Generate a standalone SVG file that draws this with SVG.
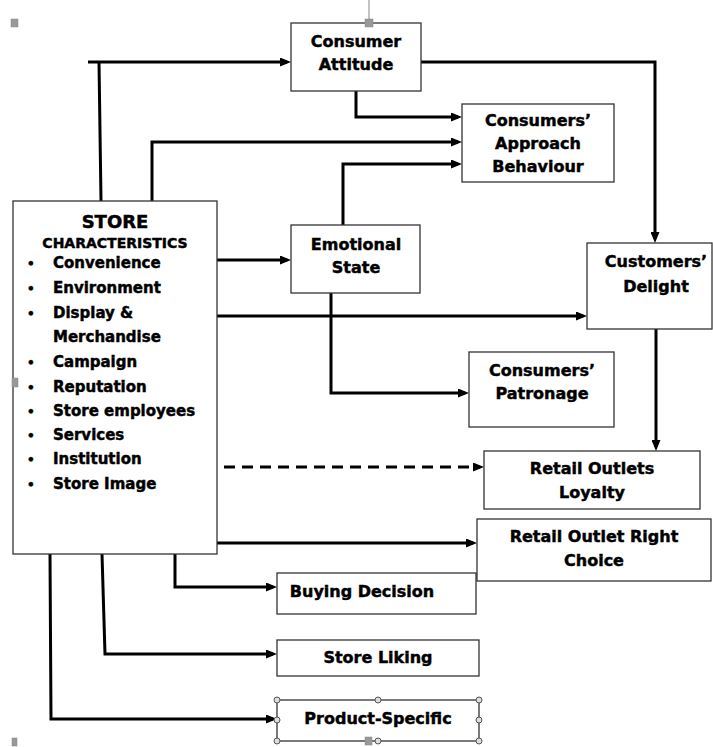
<svg xmlns="http://www.w3.org/2000/svg" width="713" height="747" viewBox="0 0 713 747">
<style>
.box{fill:#fff;stroke:#333;stroke-width:1.3}
.t{font-family:"DejaVu Sans","Liberation Sans",sans-serif;font-weight:bold;font-size:16px;fill:#000;stroke:#000;stroke-width:0.45;text-anchor:middle}
.it{font-family:"DejaVu Sans","Liberation Sans",sans-serif;font-weight:bold;font-size:15px;fill:#000;stroke:#000;stroke-width:0.45}
.b{font-size:12px}
.c{fill:none;stroke:#000;stroke-width:3;marker-end:url(#ah)}
.cn{fill:none;stroke:#000;stroke-width:3}
.h{fill:#999;stroke:#888;stroke-width:0.5}
.hc{fill:#ddd;stroke:#555;stroke-width:1}
</style>
<defs>
<marker id="ah" markerWidth="11" markerHeight="9" refX="7" refY="4.5" orient="auto" markerUnits="userSpaceOnUse"><path d="M0,0 L11,4.5 L0,9 Z" fill="#000"/></marker>
</defs>
<rect width="713" height="747" fill="#fff"/>

<g id="connectors">
<path class="c" d="M88,62 H287"/>
<path class="cn" d="M99,62 L101,201"/>
<path class="c" d="M152,201 V142 H458"/>
<path class="c" d="M356,91 V117 H458"/>
<path class="c" d="M343,225 V164 H458"/>
<path class="c" d="M421,62 H655 V239"/>
<path class="c" d="M217,260 H287"/>
<path class="c" d="M217,316 H583"/>
<path class="c" d="M331,293 V393 H465"/>
<path class="c" d="M656,329 V447"/>
<path class="c" d="M224,467 H480" stroke-dasharray="11 7"/>
<path class="c" d="M217,543 H473"/>
<path class="c" d="M175,554 V587 H273"/>
<path class="c" d="M102,554 L105,654 H273"/>
<path class="c" d="M50,554 L51,719 H273"/>
</g>

<g id="store">
<rect class="box" x="13" y="201" width="204" height="353"/>
<text class="t" x="115" y="228" style="font-size:18px">STORE</text>
<text class="t" x="115" y="248" style="font-size:14px">CHARACTERISTICS</text>
<g class="it">
<text class="b" x="27" y="268">•</text><text x="53" y="268">Convenience</text>
<text class="b" x="27" y="293">•</text><text x="53" y="293">Environment</text>
<text class="b" x="27" y="318">•</text><text x="53" y="318">Display &amp;</text>
<text x="53" y="342">Merchandise</text>
<text class="b" x="27" y="367">•</text><text x="53" y="367">Campaign</text>
<text class="b" x="27" y="392">•</text><text x="53" y="392">Reputation</text>
<text class="b" x="27" y="416">•</text><text x="53" y="416">Store employees</text>
<text class="b" x="27" y="440">•</text><text x="53" y="440">Services</text>
<text class="b" x="27" y="464">•</text><text x="53" y="464">Institution</text>
<text class="b" x="27" y="489">•</text><text x="53" y="489">Store Image</text>
</g>
</g>

<g id="consumer-attitude">
<rect class="box" x="291" y="23" width="130" height="68"/>
<text class="t" x="356" y="47">Consumer</text>
<text class="t" x="356" y="70">Attitude</text>
</g>

<g id="approach-behaviour">
<rect class="box" x="462" y="104" width="152" height="78"/>
<text class="t" x="538" y="126">Consumers’</text>
<text class="t" x="538" y="149">Approach</text>
<text class="t" x="538" y="172">Behaviour</text>
</g>

<g id="emotional-state">
<rect class="box" x="291" y="225" width="129" height="68"/>
<text class="t" x="356" y="250">Emotional</text>
<text class="t" x="356" y="273">State</text>
</g>

<g id="customers-delight">
<rect class="box" x="587" y="243" width="125" height="86"/>
<text class="t" x="656" y="267">Customers’</text>
<text class="t" x="656" y="292">Delight</text>
</g>

<g id="patronage">
<rect class="box" x="469" y="352" width="145" height="75"/>
<text class="t" x="542" y="376">Consumers’</text>
<text class="t" x="542" y="399">Patronage</text>
</g>

<g id="loyalty">
<rect class="box" x="484" y="451" width="216" height="58"/>
<text class="t" x="592" y="474">Retail Outlets</text>
<text class="t" x="592" y="498">Loyalty</text>
</g>

<g id="right-choice">
<rect class="box" x="477" y="519" width="234" height="62"/>
<text class="t" x="594" y="542">Retail Outlet Right</text>
<text class="t" x="594" y="566">Choice</text>
</g>

<g id="buying-decision">
<rect class="box" x="277" y="573" width="199" height="41"/>
<text class="t" x="362" y="597">Buying Decision</text>
</g>

<g id="store-liking">
<rect class="box" x="277" y="640" width="202" height="36"/>
<text class="t" x="378" y="663">Store Liking</text>
</g>

<g id="product-specific">
<rect class="box" x="277" y="700" width="202" height="41"/>
<text class="t" x="378" y="724">Product-Specific</text>
<g class="hc">
<circle cx="277" cy="700" r="3"/><circle cx="378" cy="700" r="3"/><circle cx="479" cy="700" r="3"/>
<circle cx="277" cy="720" r="3"/><circle cx="479" cy="720" r="3"/>
<circle cx="277" cy="741" r="3"/><circle cx="378" cy="741" r="3"/><circle cx="479" cy="741" r="3"/>
</g>
<rect class="h" x="365" y="737" width="7" height="8"/>
</g>

<g id="handles">
<line x1="369" y1="0" x2="369" y2="19" stroke="#888" stroke-width="1"/>
<rect class="h" x="365" y="19" width="8" height="8"/>
<rect class="h" x="11" y="19" width="7" height="8"/>
<rect class="h" x="12" y="378" width="6" height="9"/>
<rect class="h" x="12" y="738" width="5" height="8"/>
</g>
</svg>
